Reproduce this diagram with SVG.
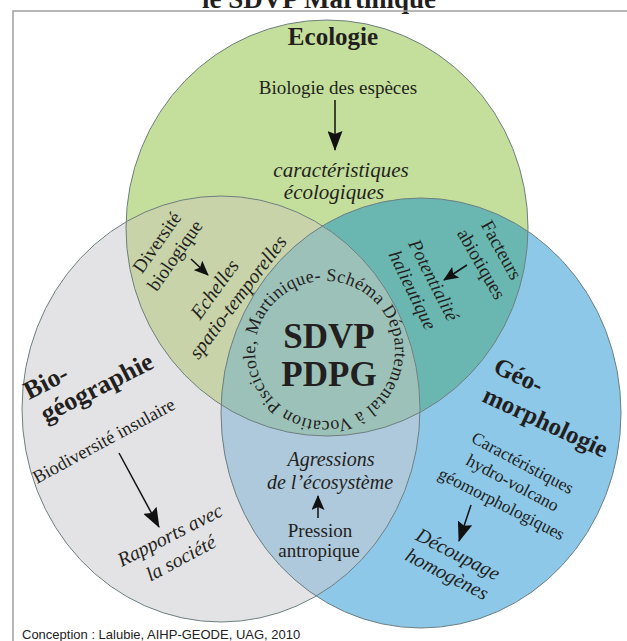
<svg xmlns="http://www.w3.org/2000/svg" width="627" height="641" viewBox="0 0 627 641">
<style>
text{font-family:"Liberation Serif","Times New Roman",serif;fill:#231f20}
.h{font-weight:bold;font-size:25px}
.b{font-size:19px}
.i{font-size:20px;font-style:italic}
.m{text-anchor:middle}
.ol{fill:none;stroke:#6f7f80;stroke-width:1}
.ar{stroke:#111;stroke-width:1.5;fill:none}
.cr{font-family:"Liberation Sans",Arial,sans-serif;font-size:13px;fill:#222}
</style>
<defs>
<clipPath id="cGray"><ellipse cx="221" cy="409" rx="199" ry="213"/></clipPath>
<clipPath id="cBlue"><ellipse cx="421" cy="413" rx="200" ry="215"/></clipPath>
<marker id="ah" markerUnits="userSpaceOnUse" markerWidth="20" markerHeight="15" viewBox="0 0 20 15" refX="19" refY="7.5" orient="auto"><path d="M0,0 L20,7.5 L0,15 L3,7.5 z" fill="#111"/></marker>
<marker id="as" markerUnits="userSpaceOnUse" markerWidth="15" markerHeight="13" viewBox="0 0 15 13" refX="14" refY="6.5" orient="auto"><path d="M0,0 L15,6.5 L0,13 L3,6.5 z" fill="#111"/></marker>
<path id="ring" d="M325,281 A70,70 0 0 1 325,421 A70,70 0 0 1 325,281"/>
</defs>
<rect width="627" height="641" fill="#fff"/>
<text x="319" y="8" class="m" style="font-weight:bold;font-size:27px">le SDVP Martinique</text>
<path d="M13,641 V11 H627" fill="none" stroke="#a0a0a0" stroke-width="1.5"/>

<g id="venn">
<ellipse cx="221" cy="409" rx="199" ry="213" fill="#e3e3e5"/>
<ellipse cx="327" cy="228" rx="201" ry="208" fill="#c4df9b"/>
<ellipse cx="421" cy="413" rx="200" ry="215" fill="#8dc8e8"/>
<ellipse cx="327" cy="228" rx="201" ry="208" fill="#c8d3a9" clip-path="url(#cGray)"/>
<ellipse cx="327" cy="228" rx="201" ry="208" fill="#6ab7b1" clip-path="url(#cBlue)"/>
<ellipse cx="221" cy="409" rx="199" ry="213" fill="#aec8dc" clip-path="url(#cBlue)"/>
<g clip-path="url(#cGray)"><ellipse cx="327" cy="228" rx="201" ry="208" fill="#9cc1b9" clip-path="url(#cBlue)"/></g>
<ellipse class="ol" cx="221" cy="409" rx="199" ry="213"/>
<ellipse class="ol" cx="327" cy="228" rx="201" ry="208"/>
<ellipse class="ol" cx="421" cy="413" rx="200" ry="215"/>
</g>

<g id="ecologie">
<text x="333" y="45" class="h m">Ecologie</text>
<text x="338" y="94" class="b m">Biologie des espèces</text>
<text x="341" y="177" class="i m" style="font-size:21px">caractéristiques</text>
<text x="334" y="199" class="i m" style="font-size:21px">écologiques</text>
</g>

<g id="biogeographie">
<text transform="translate(29,400) rotate(-27)" style="font-weight:bold;font-size:26px">Bio-</text>
<text transform="translate(46,423) rotate(-27)" style="font-weight:bold;font-size:26px">géographie</text>
<text transform="translate(37,484) rotate(-28.5)" style="font-size:18.5px">Biodiversité insulaire</text>
<text transform="translate(173,541) rotate(-27)" class="i m">Rapports avec</text>
<text transform="translate(184,564) rotate(-28)" class="i m">la société</text>
</g>

<g id="geomorphologie">
<text transform="translate(492,372) rotate(25)" class="h">Géo-</text>
<text transform="translate(481,401) rotate(25)" class="h">morphologie</text>
<text transform="translate(520,468) rotate(28)" class="m" style="font-size:17.5px">Caractéristiques</text>
<text transform="translate(510,488) rotate(28)" class="m" style="font-size:17.5px">hydro-volcano</text>
<text transform="translate(499,509) rotate(27)" class="m" style="font-size:17.5px">géomorphologiques</text>
<text transform="translate(455,560) rotate(27)" class="i m">Découpage</text>
<text transform="translate(444,580) rotate(27)" class="i m">homogènes</text>
</g>

<g id="eco-bio">
<text transform="translate(162,246) rotate(-55)" class="b m">Diversité</text>
<text transform="translate(180,259) rotate(-55)" class="b m">biologique</text>
<text transform="translate(220,293) rotate(-54)" class="i m">Echelles</text>
<text transform="translate(243,301) rotate(-53)" class="i m">spatio-temporelles</text>
</g>

<g id="eco-geo">
<text transform="translate(496,253) rotate(61)" class="b m">Facteurs</text>
<text transform="translate(476,267) rotate(60)" class="b m">abiotiques</text>
<text transform="translate(428,283) rotate(63)" class="i m" style="font-size:19px">Potentialité</text>
<text transform="translate(407,293) rotate(64)" class="i m" style="font-size:19px">halieutique</text>
</g>

<g id="bio-geo">
<text x="331" y="466" class="i m">Agressions</text>
<text x="330" y="489" class="i m">de l’écosystème</text>
<text x="320" y="537" class="b m">Pression</text>
<text x="319" y="557" class="b m">antropique</text>
</g>

<g id="centre">
<text x="329" y="348" class="m" style="font-weight:bold;font-size:35px">SDVP</text>
<text x="329" y="386" class="m" style="font-weight:bold;font-size:35px">PDPG</text>
<text style="font-size:18px"><textPath href="#ring" startOffset="1" textLength="434" lengthAdjust="spacing">Schéma Départemental à Vocation Piscicole, Martinique-</textPath></text>
</g>

<g id="connectors">
<line class="ar" x1="335" y1="100" x2="335" y2="150" marker-end="url(#ah)"/>
<line class="ar" x1="119" y1="453" x2="159" y2="527" marker-end="url(#ah)"/>
<line class="ar" x1="471" y1="505" x2="459" y2="541" marker-end="url(#ah)"/>
<line class="ar" x1="191" y1="259" x2="208" y2="275" marker-end="url(#as)"/>
<line class="ar" x1="467" y1="265" x2="444" y2="280" marker-end="url(#as)"/>
<line class="ar" x1="318" y1="518" x2="318" y2="496" marker-end="url(#as)"/>
</g>

<text id="credit" x="22" y="639" class="cr">Conception : Lalubie, AIHP-GEODE, UAG, 2010</text>
</svg>
